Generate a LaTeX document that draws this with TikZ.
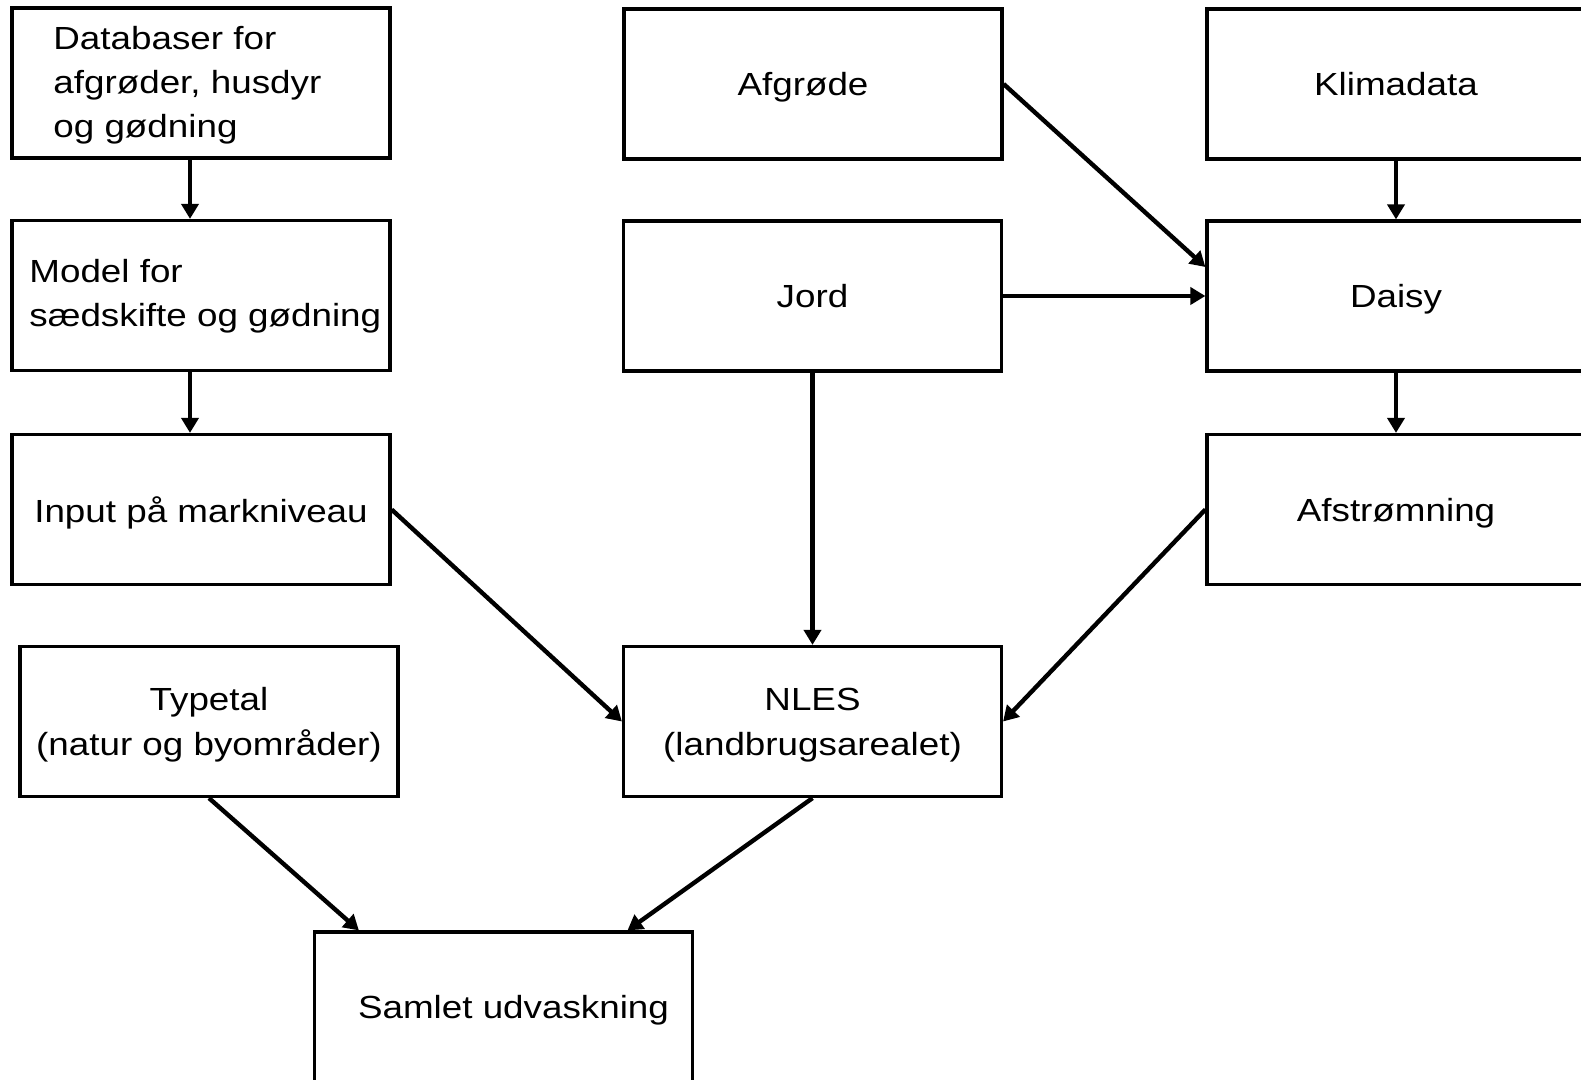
\documentclass[tikz,border=0pt]{standalone}
\usepackage{fontspec}
\setmainfont[FakeStretch=1.15]{Liberation Sans}
\usetikzlibrary{arrows.meta}

\begin{document}
\begin{tikzpicture}[x=.5pt,y=-.5pt,
  box/.style={draw=black,line width=1.6pt,fill=white,minimum width=189pt,minimum height=75pt,inner sep=0pt,align=center,text depth=0pt,font=\fontsize{16}{22.5}\selectfont},
  boxtext/.style={inner sep=0pt,anchor=west,align=left,font=\fontsize{16}{22}\selectfont},
  flow/.style={line width=2.2pt,-{Triangle[length=7.5pt,width=8.5pt]}}]
\path[use as bounding box] (0,0) rectangle (1581,1080);
\path[fill=white,draw=none] (0,0) rectangle (1581,1080);
\node[box] (db) at (201,83) {};
\node[boxtext] (dbtext) at (53,85) {Databaser for\\afgrøder, husdyr\\og gødning};
\node[box] (model) at (201,295.5) {};
\node[boxtext] (modeltext) at (29,296.5) {Model for\\sædskifte og gødning};
\node[box] (input) at (201,509.5) {Input på markniveau};
\node[box] (typetal) at (209,721.5) {Typetal\\(natur og byområder)};
\node[box] (afgrode) at (813,84) {\hspace*{-10pt}Afgrøde};
\node[box] (jord) at (812.5,296) {Jord};
\node[box] (nles) at (812.5,721.5) {NLES\\(landbrugsarealet)};
\node[box] (klima) at (1396,84) {Klimadata};
\node[box] (daisy) at (1396,296) {Daisy};
\node[box] (afstrom) at (1396,509.5) {Afstrømning};
\node[box] (samlet) at (503.5,1007) {\hspace*{10pt}Samlet udvaskning};
\draw[flow] ([xshift=-5.5pt]db.south) -- ([xshift=-5.5pt]model.north);
\draw[flow] ([xshift=-5.5pt]model.south) -- ([xshift=-5.5pt]input.north);
\draw[flow] (input.east) -- (nles.west);
\draw[flow] (jord.south) -- (nles.north);
\draw[flow] (afstrom.west) -- (nles.east);
\draw[flow] (afgrode.east) -- ([yshift=14.5pt]daisy.west);
\draw[flow] (jord.east) -- (daisy.west);
\draw[flow] (klima.south) -- (daisy.north);
\draw[flow] (daisy.south) -- (afstrom.north);
\draw[flow] (typetal.south) -- ([xshift=23pt]samlet.north west);
\draw[flow] (nles.south) -- ([xshift=62pt]samlet.north);
\end{tikzpicture}
\end{document}
